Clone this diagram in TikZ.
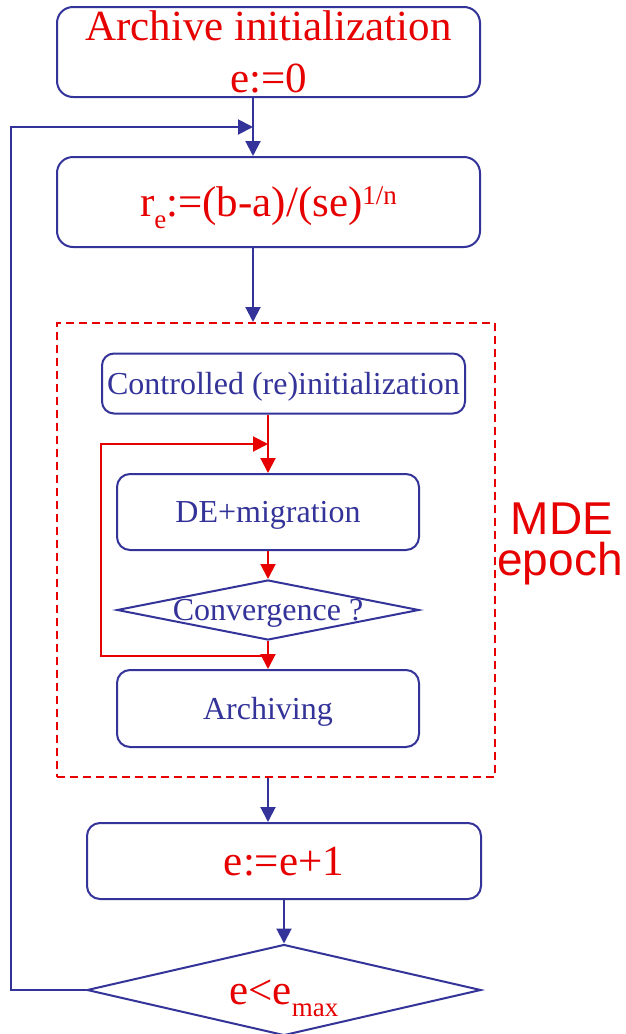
\documentclass[tikz,border=0pt]{standalone}
\usepackage{fontspec}
\setmainfont{Liberation Serif}
\newfontfamily\labelsans{Liberation Sans}
\usetikzlibrary{shapes.geometric,arrows.meta}
\definecolor{flowblue}{RGB}{51,51,153}
\definecolor{flowred}{RGB}{230,0,0}

\newcommand{\lowsub}[1]{\raisebox{-12pt}{\fontsize{27}{27}\selectfont #1}}
\newcommand{\highsup}[1]{\raisebox{12pt}{\fontsize{27}{27}\selectfont #1}}

\begin{document}
\begin{tikzpicture}[x=1pt,y=-1pt,
  line width=2pt,
  >={Triangle[length=15pt,width=15pt]},
  bluelink/.style={draw=flowblue,->},
  redlink/.style={draw=flowred,->},
  bigtext/.style={font=\fontsize{43}{52}\selectfont, text=flowred},
  smalltext/.style={font=\fontsize{32}{38}\selectfont, text=flowblue},
  bigcaps/.style={text height=28pt, text depth=0pt},
  smallcaps/.style={text height=21pt, text depth=0pt},
  sidetext/.style={font=\labelsans\fontsize{46}{46}\selectfont, text=flowred, inner sep=0pt, anchor=base},
  stepbox/.style={draw=flowblue, rounded corners=#1, inner sep=0pt},
  stepbox/.default=13pt,
  decision/.style={draw=flowblue, diamond, inner sep=0pt, aspect=4},
  epochbox/.style={draw=flowred, dash pattern=on 8pt off 5pt, rectangle, inner sep=0pt}
]
  \useasboundingbox (0,0) rectangle (625,1034);
  \fill[white] (0,0) rectangle (625,1034);

  % outer loop: initialisation and radius
  \node[stepbox=16pt, bigtext, align=center, minimum width=423pt, minimum height=90pt]
    (init) at (268.5,52) {Archive initialization\\e:=0};
  \node[stepbox=16pt, bigtext, bigcaps, minimum width=423pt, minimum height=90pt]
    (radius) at (268.5,202) {r\lowsub{e}:=(b-a)/(se)\highsup{1/n}};

  % one MDE epoch
  \node[epochbox, minimum width=438pt, minimum height=454pt] (mde) at (276,550) {};
  \node[sidetext] (mdetop) at (562,534) {MDE};
  \node[sidetext] (mdebottom) at (560,575) {epoch};

  \node[stepbox=12pt, smalltext, smallcaps, minimum width=363pt, minimum height=60pt]
    (ctrl) at (283.5,383.5) {Controlled (re)initialization};
  \node[stepbox, smalltext, smallcaps, minimum width=302pt, minimum height=76pt]
    (de) at (268,512) {DE+migration};
  \node[decision, smalltext, smallcaps, minimum width=302pt, minimum height=60pt]
    (conv) at (268,610) {\makebox[0pt]{Convergence ?}};
  \node[stepbox, smalltext, smallcaps, minimum width=302pt, minimum height=77pt]
    (arch) at (268,708.5) {Archiving};

  % epoch counter and stopping test
  \node[stepbox, bigtext, bigcaps, minimum width=394pt, minimum height=76pt]
    (inc) at (284,861) {e:=e+1};
  \node[decision, bigtext, bigcaps, minimum width=394pt, minimum height=91pt]
    (test) at (284,990) {\makebox[0pt]{e<e\lowsub{\hspace{0pt}max}}};

  % junction points of the two loops
  \coordinate (bin) at (253,127);
  \coordinate (bl) at (11,127);
  \coordinate (rin) at (268,444);
  \coordinate (rl) at (101,444);
  \coordinate (rj) at (268,656);

  % blue connectors
  \draw[bluelink] (init.south -| bin) -- (radius.north -| bin);
  \draw[bluelink] (test.west) -| (bl) -- (bin);
  \draw[bluelink] (radius.south -| bin) -- (mde.north -| bin);
  \draw[bluelink] (mde.south -| rin) -- (inc.north -| rin);
  \draw[bluelink] (inc.south) -- (test.north);

  % red connectors inside the epoch
  \draw[redlink] (ctrl.south -| rin) -- (de.north);
  \draw[redlink] (rj) -| (rl) -- (rin);
  \draw[redlink] (de.south) -- (conv.north);
  \draw[redlink] (conv.south) -- (arch.north);
\end{tikzpicture}
\end{document}
